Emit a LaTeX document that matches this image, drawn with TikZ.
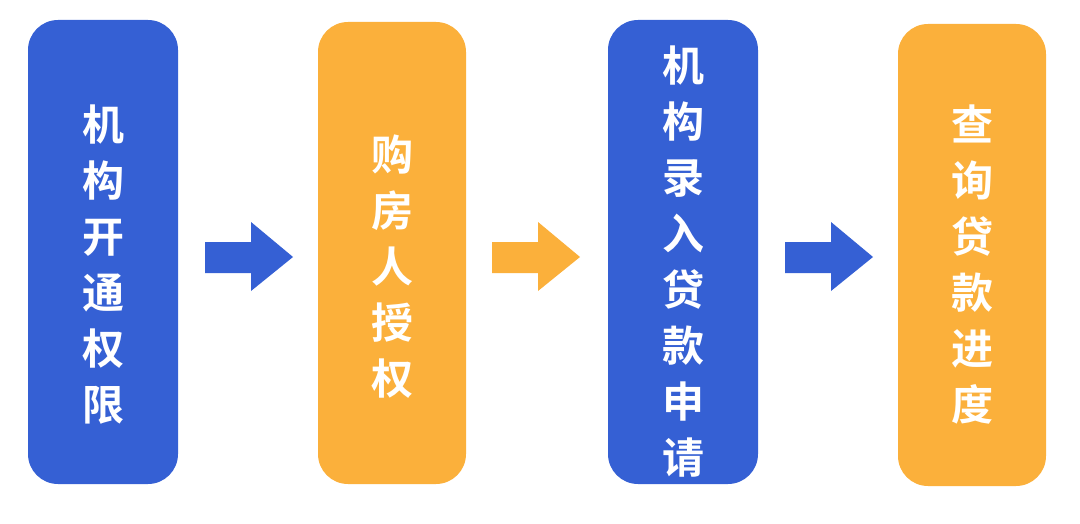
\documentclass[tikz,border=0pt]{standalone}
\usepackage{fontspec}
\newfontfamily\cjk{Noto Sans CJK SC Bold}
\definecolor{cblue}{HTML}{3560D4}
\definecolor{corange}{HTML}{FBB03B}
\begin{document}
\begin{tikzpicture}[x=1pt,y=-1pt,
  box/.style={rounded corners=30pt,draw=none},
  lbl/.style={text=white,font=\cjk\fontsize{42}{56}\selectfont,align=center,inner sep=0},
  arr/.style={draw=none}]
\useasboundingbox (0,0) rectangle (1080,524);
\fill[box,cblue] (28,20) rectangle (178,484);
\fill[box,corange] (318,22) rectangle (466,484);
\fill[box,cblue] (608,20) rectangle (758,484);
\fill[box,corange] (898,24) rectangle (1046,486);
\node[lbl] (t1) at (103,265) {机\\构\\开\\通\\权\\限};
\node[lbl] (t2) at (392,267) {购\\房\\人\\授\\权};
\node[lbl] (t3) at (683,262) {机\\构\\录\\入\\贷\\款\\申\\请};
\node[lbl] (t4) at (972,265) {查\\询\\贷\\款\\进\\度};
\foreach \x/\c in {205/cblue,492/corange,785/cblue}{
  \fill[arr,\c] (\x,242) -- (\x+46,242) -- (\x+46,222) -- (\x+88,257) -- (\x+46,291) -- (\x+46,273) -- (\x,273) -- cycle;
}
\end{tikzpicture}
\end{document}
